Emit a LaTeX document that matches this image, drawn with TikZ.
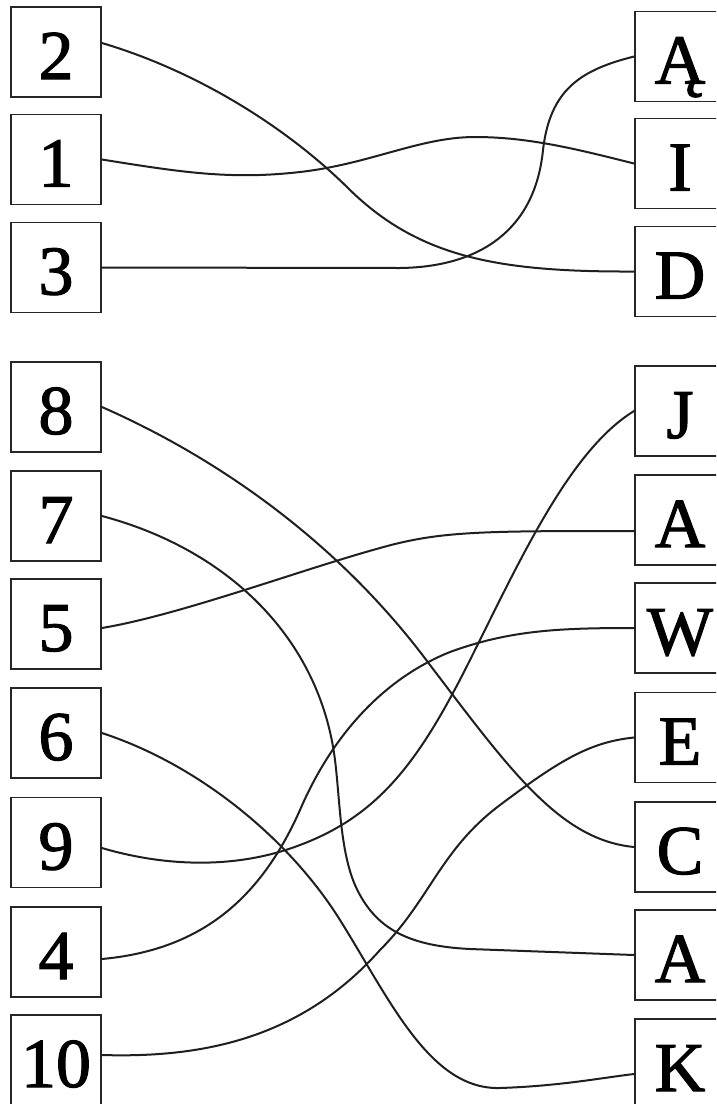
\documentclass[tikz,border=0pt]{standalone}
\usepackage{fontspec}
\newfontfamily\cardfont[FakeBold=1.6]{Liberation Serif}
\begin{document}
\begin{tikzpicture}[x=1pt,y=-1pt,
  card/.style={draw=black!85, line width=1.8pt, fill=white, minimum size=90pt, inner sep=0pt,
    font=\fontsize{70}{70}\cardfont, text height=54pt, text depth=0pt},
  conn/.style={draw=black!88, line width=2pt, line cap=round, line join=round}]
\clip (0,0) rectangle (716,1104);
\fill[white] (0,0) rectangle (716,1104);
% left column
\node[card] (n2)  at (56,52)    {2};
\node[card] (n1)  at (56,159.5) {1};
\node[card] (n3)  at (56,267.5) {3};
\node[card] (n8)  at (56,407)   {8};
\node[card] (n7)  at (56,516)   {7};
\node[card] (n5)  at (56,624)   {5};
\node[card] (n6)  at (56,733)   {6};
\node[card] (n9)  at (56,842.5) {9};
\node[card] (n4)  at (56,952)   {4};
\node[card] (n10) at (56,1060)  {10};
% right column
\node[card] (rA1) at (680,56.5)  {Ą};
\node[card] (rI)  at (680,163.5) {I};
\node[card] (rD)  at (680,271.5) {D};
\node[card] (rJ)  at (680,411)   {J};
\node[card] (rA2) at (680,520)   {A};
\node[card] (rW)  at (680,628)   {W};
\node[card] (rE)  at (680,737.5) {E};
\node[card] (rC)  at (680,847)   {C};
\node[card] (rA3) at (680,955)   {A};
\node[card] (rK)  at (680,1064)  {K};
% connectors
\draw[conn] ([yshift=9pt]n2.east) .. controls (200,72) and (290,130) .. (350,190)
  .. controls (420,258) and (500,272) .. (rD.west);
\draw[conn] (n1.east) .. controls (180,172) and (230,180) .. (300,172)
  .. controls (370,164) and (420,137) .. (475,137)
  .. controls (530,137) and (580,150) .. (rI.west);
\draw[conn] (n3.east) -- (400,268) .. controls (480,267) and (535,230) .. (543,150)
  .. controls (550,90) and (580,70) .. (rA1.west);
\draw[conn] (n8.east) .. controls (200,450) and (330,530) .. (430,665)
  .. controls (510,770) and (560,840) .. (rC.west);
\draw[conn] (n7.east) .. controls (230,550) and (320,640) .. (335,760)
  .. controls (340,800) and (340,850) .. (355,885)
  .. controls (375,930) and (410,946) .. (470,949) -- (rA3.west);
\draw[conn] ([yshift=-4pt]n5.east) .. controls (180,615) and (300,570) .. (380,548)
  .. controls (440,531) and (480,531) .. ([yshift=-11pt]rA2.west);
\draw[conn] (n6.east) .. controls (200,765) and (290,840) .. (340,920)
  .. controls (390,1000) and (430,1090) .. (500,1088)
  .. controls (560,1086) and (600,1078) .. ([yshift=-10pt]rK.west);
\draw[conn] ([yshift=-5.5pt]n9.east) .. controls (170,868) and (240,868) .. (300,845)
  .. controls (380,815) and (420,760) .. (470,660)
  .. controls (520,560) and (570,450) .. (rJ.west);
\draw[conn] ([yshift=-7pt]n4.east) .. controls (200,950) and (260,900) .. (300,810)
  .. controls (330,740) and (380,680) .. (450,652)
  .. controls (510,630) and (560,628) .. (rW.west);
\draw[conn] ([yshift=5pt]n10.east) .. controls (200,1058) and (300,1040) .. (380,950)
  .. controls (430,900) and (440,850) .. (500,805)
  .. controls (560,760) and (590,742) .. (rE.west);
\end{tikzpicture}
\end{document}
